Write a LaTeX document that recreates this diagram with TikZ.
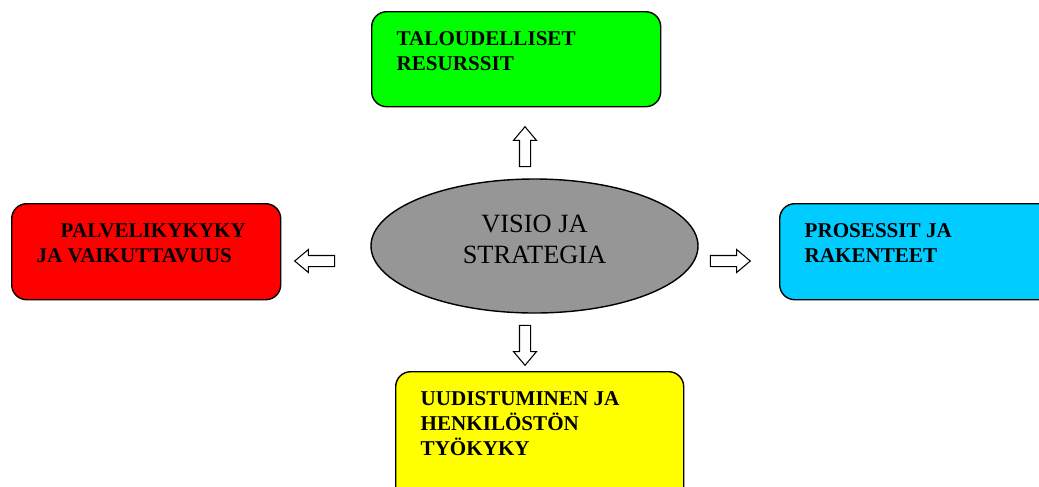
\documentclass[tikz,border=0pt]{standalone}
\usepackage{fontspec}
\setmainfont{Liberation Serif}
\usetikzlibrary{shapes.geometric,shapes.arrows}
\definecolor{vihrea}{RGB}{0,255,0}
\definecolor{punainen}{RGB}{255,0,0}
\definecolor{syaani}{RGB}{0,204,255}
\definecolor{keltainen}{RGB}{255,255,0}
\definecolor{harmaa}{RGB}{150,150,150}

\begin{document}
\begin{tikzpicture}[
    laatikko/.style={draw, line width=0.8pt, rounded corners=0.3cm, anchor=north west,
        inner xsep=0.5cm, inner ysep=0.4cm, font={\fontsize{12}{14.2}\selectfont\bfseries}},
    nuoli/.style={single arrow, draw, fill=white, line width=0.6pt, inner xsep=0pt,
        inner ysep=0.1cm, minimum height=0.8cm, minimum width=0.44cm,
        single arrow head extend=0.12cm, single arrow tip angle=80}
]
    \useasboundingbox (0,0) rectangle (20.78,-9.72);
    \clip (0,0) rectangle (20.78,-9.72);

    % laatikot
    \node[laatikko, fill=vihrea] (talous) at (7.42,-0.22)
        {\parbox[c][1.1cm][t]{4.78cm}{TALOUDELLISET\\RESURSSIT}};
    \node[laatikko, fill=punainen] (palvelu) at (0.22,-4.06)
        {\parbox[c][1.12cm][t]{4.38cm}{\hspace*{0.48cm}PALVELIKYKYKY\\JA VAIKUTTAVUUS}};
    \node[laatikko, fill=syaani] (prosessit) at (15.58,-4.06)
        {\parbox[c][1.12cm][t]{4.6cm}{PROSESSIT JA\\RAKENTEET}};
    \node[laatikko, fill=keltainen] (uudistuminen) at (7.90,-7.42)
        {\parbox[c][1.8cm][t]{4.76cm}{UUDISTUMINEN JA\\HENKILÖSTÖN\\TYÖKYKY}};

    % keskella
    \node[ellipse, draw, fill=harmaa, line width=0.8pt, minimum width=6.54cm,
        minimum height=2.68cm, inner sep=0pt, align=center,
        font={\fontsize{15}{17.6}\selectfont}] (visio) at (10.69,-4.92)
        {VISIO JA\\STRATEGIA\\[-0.34cm]\mbox{}};

    % nuolet
    \node[nuoli, rotate=90] (ylos) at (10.5,-3.0) {};
    \node[nuoli, rotate=-90] (alas) at (10.5,-6.84) {};
    \node[nuoli, rotate=180] (vasen) at (6.36,-5.22) {};
    \node[nuoli] (oikea) at (14.54,-5.22) {};
\end{tikzpicture}
\end{document}
